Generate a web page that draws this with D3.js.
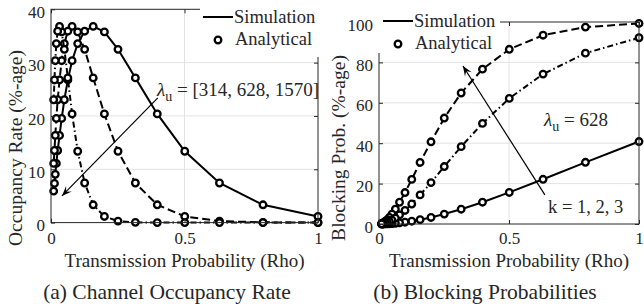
<!DOCTYPE html>
<html>
<head>
<meta charset="utf-8">
<script src="https://cdn.jsdelivr.net/npm/d3@7"></script>
<style>
  body { margin: 0; background: #fff; }
  svg { display: block; }
  text { font-family: "Liberation Serif", serif; fill: #262626; }
</style>
</head>
<body>
<div id="chart"></div>
<script>
// transmission probability samples (log spaced)
const rho = [1, 0.794, 0.631, 0.501, 0.398, 0.316, 0.251, 0.2, 0.158, 0.126, 0.1,
             0.079, 0.063, 0.05, 0.04, 0.032, 0.025, 0.02, 0.016, 0.013, 0.01];

// (a) channel occupancy rate, %
const occupancy314  = [1.15, 3.34, 7.43, 13.38, 20.38, 27.14, 32.49, 35.76, 36.79, 35.89, 33.57,
                       30.36, 26.75, 23.04, 19.53, 16.34, 13.52, 11.10, 9.05, 7.34, 5.92];
const occupancy628  = [0.0, 0.05, 0.28, 1.15, 3.34, 7.43, 13.38, 20.38, 27.14, 32.49, 35.76,
                       36.79, 35.89, 33.57, 30.36, 26.75, 23.04, 19.53, 16.34, 13.52, 11.10];
const occupancy1570 = [0.0, 0.0, 0.0, 0.0, 0.0, 0.05, 0.28, 1.15, 3.34, 7.43, 13.38,
                       20.38, 27.14, 32.49, 35.76, 36.79, 35.89, 33.57, 30.36, 26.75, 23.04];

// (b) blocking probability, %
const blockingSolid   = [40.82, 30.54, 22.14, 15.63, 10.80, 7.33, 4.91, 3.25, 2.13, 1.38, 0.89,
                         0.57, 0.37, 0.23, 0.15, 0.10, 0.06, 0.04, 0.02, 0.02, 0.01];
const blockingDashed  = [99.27, 97.48, 93.46, 86.49, 76.67, 64.85, 52.45, 40.70, 30.46, 22.08, 15.58,
                         10.76, 7.30, 4.89, 3.23, 2.12, 1.38, 0.89, 0.57, 0.37, 0.23];
const blockingDashDot = [92.20, 84.57, 74.21, 62.17, 49.80, 38.30, 28.45, 20.49, 14.40, 9.89, 6.70,
                         4.47, 2.95, 1.93, 1.25, 0.81, 0.52, 0.33, 0.21, 0.13, 0.09];

const xTicks = [0, 0.5, 1];
const occTicks = [0, 10, 20, 30, 40];
const blockTicks = [0, 20, 40, 60, 80, 100];

const DASH = { solid: null, dashed: "8,4", dashdot: "6,3,1.5,3" };

const svg = d3.select("#chart").append("svg")
    .attr("width", 644)
    .attr("height", 307);

function drawPanel(cfg) {
    const x = d3.scaleLinear().domain([0, 1]).range([cfg.left, cfg.right]);
    const y = d3.scaleLinear().domain([0, cfg.yMax]).range([cfg.bottom, cfg.top]);
    const g = svg.append("g");

    // grid
    g.selectAll(".gy").data(cfg.yTicks.slice(1, -1)).enter().append("line")
        .attr("x1", cfg.left).attr("x2", cfg.right)
        .attr("y1", d => y(d)).attr("y2", d => y(d))
        .attr("stroke", "#e3e3e3").attr("stroke-width", 1);
    g.selectAll(".gx").data(xTicks.slice(1, -1)).enter().append("line")
        .attr("x1", d => x(d)).attr("x2", d => x(d))
        .attr("y1", cfg.top).attr("y2", cfg.bottom)
        .attr("stroke", "#e3e3e3").attr("stroke-width", 1);

    // series
    const line = d3.line().x((d, i) => x(rho[i])).y(d => y(d));
    cfg.series.forEach(s => {
        g.append("path")
            .attr("d", line(s.values))
            .attr("fill", "none")
            .attr("stroke", "#000")
            .attr("stroke-width", 2)
            .attr("stroke-dasharray", DASH[s.style]);
        g.selectAll(null).data(s.values).enter().append("circle")
            .attr("cx", (d, i) => x(rho[i]))
            .attr("cy", d => y(d))
            .attr("r", 3.3)
            .attr("fill", "#fff")
            .attr("stroke", "#000")
            .attr("stroke-width", 2.3);
    });

    // axes (MATLAB style, inward ticks on all four sides)
    const ax = (gen, tr) => g.append("g").attr("transform", tr).call(gen)
        .call(a => a.select(".domain").remove())
        .call(a => a.selectAll("line").attr("stroke", "#262626"));

    ax(d3.axisLeft(y).tickValues(cfg.yTicks).tickSizeInner(-4).tickSizeOuter(0).tickPadding(6),
       `translate(${cfg.left},0)`)
        .selectAll("text").attr("dy", "0.48em").style("font-size", "17px");
    ax(d3.axisRight(y).tickValues(cfg.yTicks).tickSizeInner(-4).tickSizeOuter(0).tickFormat(""),
       `translate(${cfg.right},0)`);
    ax(d3.axisBottom(x).tickValues(xTicks).tickSizeInner(-4).tickSizeOuter(0)
        .tickPadding(232 - cfg.bottom).tickFormat(d3.format("")), `translate(0,${cfg.bottom})`)
        .selectAll("text").style("font-size", "17px");
    ax(d3.axisTop(x).tickValues(xTicks).tickSizeInner(-4).tickSizeOuter(0).tickFormat(""),
       `translate(0,${cfg.top})`);

    g.append("rect")
        .attr("x", cfg.left).attr("y", cfg.top)
        .attr("width", cfg.right - cfg.left).attr("height", cfg.bottom - cfg.top)
        .attr("fill", "none").attr("stroke", "#262626").attr("stroke-width", 1);

    // axis labels
    g.append("text")
        .attr("x", (cfg.left + cfg.right) / 2).attr("y", 266.5)
        .attr("text-anchor", "middle").style("font-size", "19px")
        .text("Transmission Probability (Rho)");
    g.append("text")
        .attr("transform", `translate(${cfg.yLabelX},148) rotate(-90)`)
        .attr("text-anchor", "middle").style("font-size", "19.5px")
        .text(cfg.yLabel);

    // caption
    g.append("text")
        .attr("x", cfg.captionX).attr("y", 299)
        .attr("text-anchor", "middle").style("font-size", "21.5px")
        .text(cfg.caption);

    // legend (white box over the frame)
    const L = cfg.legend;
    g.append("rect").attr("x", L.x0).attr("y", 0)
        .attr("width", L.x1 - L.x0).attr("height", L.y1).attr("fill", "#fff");
    g.append("line").attr("x1", L.lineX).attr("x2", L.lineX + 30)
        .attr("y1", L.lineY).attr("y2", L.lineY)
        .attr("stroke", "#000").attr("stroke-width", 2);
    g.append("text").attr("x", L.lineX + 31).attr("y", L.lineY + 6)
        .style("font-size", "18.5px").text("Simulation");
    g.append("circle").attr("cx", L.lineX + 15).attr("cy", L.lineY + 23)
        .attr("r", 3.3).attr("fill", "#fff").attr("stroke", "#000").attr("stroke-width", 2.3);
    g.append("text").attr("x", L.lineX + 32).attr("y", L.lineY + 28)
        .style("font-size", "18.5px").text("Analytical");

    // annotation arrow
    const A = cfg.arrow;
    const x1 = x(A.from[0]), y1 = y(A.from[1]), x2 = x(A.to[0]), y2 = y(A.to[1]);
    const ang = Math.atan2(y2 - y1, x2 - x1);
    g.append("line").attr("x1", x1).attr("y1", y1).attr("x2", x2).attr("y2", y2)
        .attr("stroke", "#000").attr("stroke-width", 1.2);
    const hl = 10, hw = 4;
    const bx = x2 - hl * Math.cos(ang), by = y2 - hl * Math.sin(ang);
    const nx = -Math.sin(ang), ny = Math.cos(ang);
    const mx = x2 - 0.6 * hl * Math.cos(ang), my = y2 - 0.6 * hl * Math.sin(ang);
    g.append("path")
        .attr("d", `M${x2},${y2}L${bx + hw * nx},${by + hw * ny}L${mx},${my}L${bx - hw * nx},${by - hw * ny}Z`)
        .attr("fill", "#000");

    return { g, x, y };
}

function lambdaLabel(g, px, py, rest) {
    const t = g.append("text").attr("x", px).attr("y", py).style("font-size", "19px");
    t.append("tspan").style("font-style", "italic").text("λ");
    t.append("tspan").attr("dy", 5).style("font-size", "14px").text("u");
    t.append("tspan").attr("dy", -5).text(" = " + rest);
}

const left = drawPanel({
    left: 51, right: 318, top: 9.3, bottom: 222.6, yMax: 40,
    yTicks: occTicks, yLabel: "Occupancy Rate (%-age)", yLabelX: 22,
    caption: "(a) Channel Occupancy Rate", captionX: 167,
    series: [
        { values: occupancy314, style: "solid" },
        { values: occupancy628, style: "dashed" },
        { values: occupancy1570, style: "dashdot" }
    ],
    legend: { x0: 200, x1: 322, y1: 57, lineX: 203, lineY: 17 },
    arrow: { from: [0.40, 23.4], to: [0.041, 5.0] }
});
lambdaLabel(left.g, 157, 96, "[314, 628, 1570]");

const right = drawPanel({
    left: 379, right: 639, top: 22, bottom: 224, yMax: 100,
    yTicks: blockTicks, yLabel: "Blocking Prob. (%-age)", yLabelX: 345,
    caption: "(b) Blocking Probabilities", captionX: 485,
    series: [
        { values: blockingSolid, style: "solid" },
        { values: blockingDashed, style: "dashed" },
        { values: blockingDashDot, style: "dashdot" }
    ],
    legend: { x0: 376, x1: 500, y1: 53, lineX: 383, lineY: 21 },
    arrow: { from: [0.638, 14.4], to: [0.323, 78.2] }
});
lambdaLabel(right.g, 544, 126, "628");
right.g.append("text").attr("x", 548).attr("y", 213)
    .style("font-size", "18.5px").text("k = 1, 2, 3");
</script>
</body>
</html>
